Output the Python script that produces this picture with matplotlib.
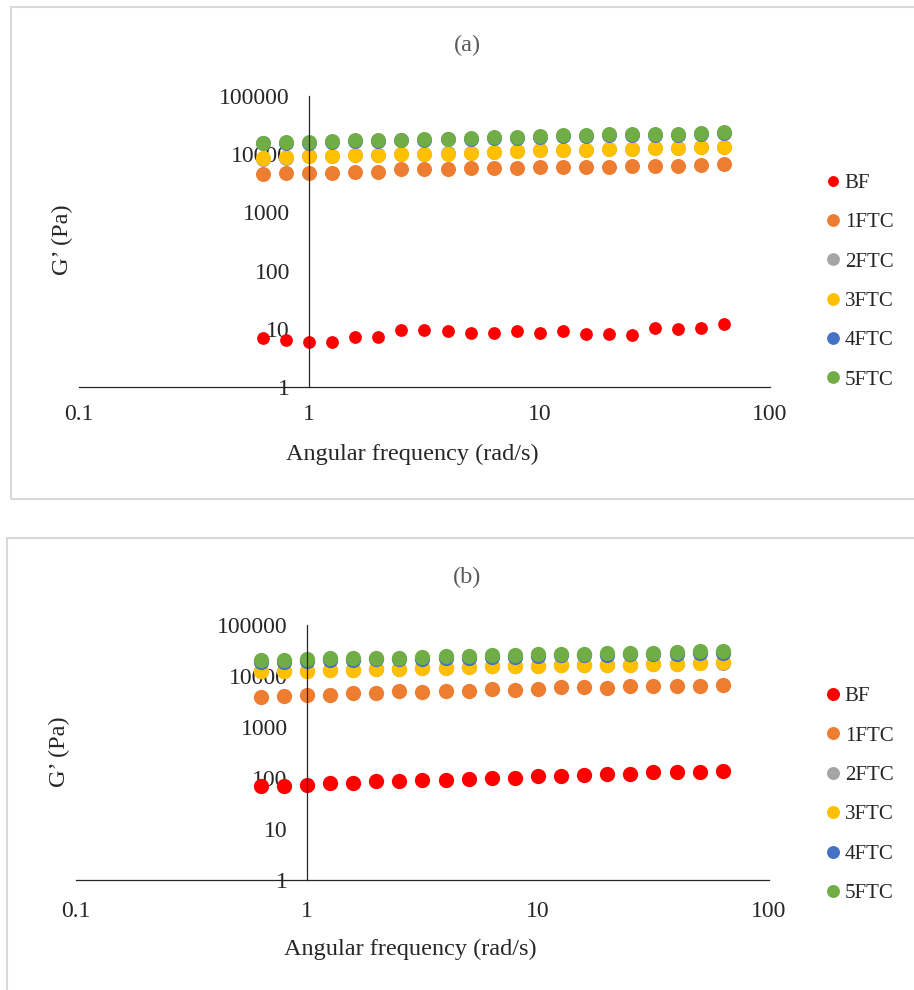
import matplotlib
matplotlib.use("Agg")
import matplotlib.pyplot as plt
from matplotlib.patches import Rectangle

plt.rcParams['font.family'] = ['Liberation Serif', 'DejaVu Serif']

# angular frequency (rad/s), same sweep for both samples
freq = [0.631, 0.794, 1.0, 1.259, 1.585, 1.995, 2.512, 3.162, 3.981, 5.012, 6.31,
        7.943, 10.0, 12.59, 15.85, 19.95, 25.12, 31.62, 39.81, 50.12, 63.1]

series_names = ["BF", "1FTC", "2FTC", "3FTC", "4FTC", "5FTC"]
series_colors = ["#FF0000", "#ED7D31", "#A5A5A5", "#FFC000", "#4472C4", "#70AD47"]

# G' (Pa) - panel (a)
bf_a = [6.9, 6.5, 5.9, 5.9, 7.2, 7.2, 9.7, 9.4, 9.0, 8.5, 8.5,
        9.0, 8.5, 9.0, 8.0, 8.0, 7.7, 10.3, 10.0, 10.3, 12.2]
ftc1_a = [4590, 4700, 4830, 4700, 5020, 5020, 5500, 5500, 5500, 5720, 5720,
          5720, 5940, 5940, 5940, 5940, 6270, 6270, 6270, 6520, 6770]
ftc2_a = [8400, 8750, 9200, 9250, 9600, 9650, 10200, 10250, 10300, 10650, 10900,
          11400, 11650, 11700, 12000, 12450, 12500, 12750, 12800, 13250, 13300]
ftc3_a = [8450, 8780, 9250, 9250, 9620, 9620, 10260, 10260, 10260, 10670, 10950,
          11390, 11690, 11690, 12000, 12480, 12480, 12790, 12790, 13310, 13310]
ftc4_a = [15300, 15700, 15800, 16200, 16700, 17100, 17200, 17800, 17900, 18300, 19000,
          19100, 19800, 20300, 20400, 21100, 21200, 21700, 21800, 22300, 23200]
ftc5_a = [15770, 16190, 16190, 16830, 17270, 17730, 17730, 18440, 18440, 18930, 19680,
          19680, 20470, 21010, 21010, 21840, 21840, 22410, 22410, 23010, 23920]

# G' (Pa) - panel (b)
bf_b = [68.7, 68.7, 74, 80, 80, 86, 86, 90, 90, 95.5, 100,
        100, 108, 108, 116, 120, 120, 129, 129, 129, 135]
ftc1_b = [3800, 4100, 4250, 4300, 4550, 4650, 5000, 4950, 5150, 5150, 5500,
          5400, 5550, 5950, 5950, 5800, 6400, 6250, 6250, 6400, 6600]
ftc2_b = [12300, 12350, 12500, 13300, 13350, 13700, 13750, 14300, 14350, 14750, 15400,
          15450, 15500, 16100, 16150, 16600, 16650, 17100, 17150, 17800, 18300]
ftc3_b = [12400, 12400, 12500, 13400, 13400, 13800, 13800, 14400, 14400, 14800, 15500,
          15500, 15500, 16200, 16200, 16700, 16700, 17200, 17200, 17900, 18400]
ftc4_b = [19100, 19100, 19700, 20500, 20500, 21400, 21400, 22000, 22700, 22700, 23700,
          23700, 24700, 25500, 25500, 26200, 26600, 26600, 27400, 28200, 28200]
ftc5_b = [20540, 20540, 21130, 22070, 22070, 23040, 23040, 23710, 24410, 24410, 25480,
          25480, 26610, 27380, 27380, 28180, 28590, 28590, 29420, 30290, 30290]

xticks = [0.1, 1, 10, 100]
xtick_labels = ["0.1", "1", "10", "100"]
yticks = [1, 10, 100, 1000, 10000, 100000]
ytick_labels = ["1", "10", "100", "1000", "10000", "100000"]

W, H = 914, 990
fig = plt.figure(figsize=(W / 100, H / 100), dpi=100)

# grey frames around each chart
fig.patches.append(Rectangle((11 / W, 1 - 499 / H), 1.0, 492 / H, transform=fig.transFigure,
                             fill=False, edgecolor="#D9D9D9", lw=1.5))
fig.patches.append(Rectangle((7 / W, -0.01), 1.0, 1 - 538 / H + 0.01, transform=fig.transFigure,
                             fill=False, edgecolor="#D9D9D9", lw=1.5))

ax_a = fig.add_axes([79 / W, 1 - 387 / H, 691 / W, 291 / H])
ax_b = fig.add_axes([76 / W, 1 - 880 / H, 693 / W, 255 / H])

panels = [
    (ax_a, [bf_a, ftc1_a, ftc2_a, ftc3_a, ftc4_a, ftc5_a], [9.2, 10.8, 10.8, 10.8, 10.8, 10.8],
     "(a)", 45, 281.5, 12, -0.233),
    (ax_b, [bf_b, ftc1_b, ftc2_b, ftc3_b, ftc4_b, ftc5_b], [11, 11, 11, 11, 11, 11],
     "(b)", 577, 795, 15, -0.274),
]

for ax, data, sizes, title, title_y, leg_y, xpad, xlab_y in panels:
    for vals, name, col, ms in zip(data, series_names, series_colors, sizes):
        ax.plot(freq, vals, linestyle="none", marker="o", ms=ms, color=col,
                markeredgewidth=0, label=name, clip_on=False)
    ax.set_xscale("log")
    ax.set_yscale("log")
    ax.set_xlim(0.1, 100)
    ax.set_ylim(1, 100000)
    ax.set_xticks(xticks, xtick_labels)
    ax.set_yticks(yticks, ytick_labels)
    ax.minorticks_off()
    ax.spines["top"].set_visible(False)
    ax.spines["right"].set_visible(False)
    ax.spines["left"].set_position(("data", 1))
    for s in ("left", "bottom"):
        ax.spines[s].set_color("#262626")
        ax.spines[s].set_linewidth(0.9)
    ax.tick_params(axis="both", length=0, labelsize=17, labelcolor="#262626")
    ax.tick_params(axis="x", pad=xpad)
    ax.tick_params(axis="y", pad=14)
    ax.set_facecolor("none")

    ax.set_xlabel("Angular frequency (rad/s)", fontsize=17.5, color="#262626")
    ax.xaxis.set_label_coords(0.482, xlab_y)
    ax.xaxis.label.set_va("center")
    ax.set_ylabel("G\u2019 (Pa)", fontsize=17.5, color="#262626")
    ax.yaxis.set_label_coords(-0.024, 0.505)
    ax.yaxis.label.set_va("center")

    fig.text(467 / W, 1 - title_y / H, title, ha="center", va="center",
             fontsize=17.5, color="#595959")

    ax.legend(loc="center left", bbox_to_anchor=(825 / W, 1 - leg_y / H),
              bbox_transform=fig.transFigure, frameon=False, fontsize=15,
              handlelength=0.8, handletextpad=0.15, labelspacing=0.95,
              borderpad=0, borderaxespad=0, markerscale=0.85, labelcolor="#262626")

fig.savefig("out.png", dpi=100)
